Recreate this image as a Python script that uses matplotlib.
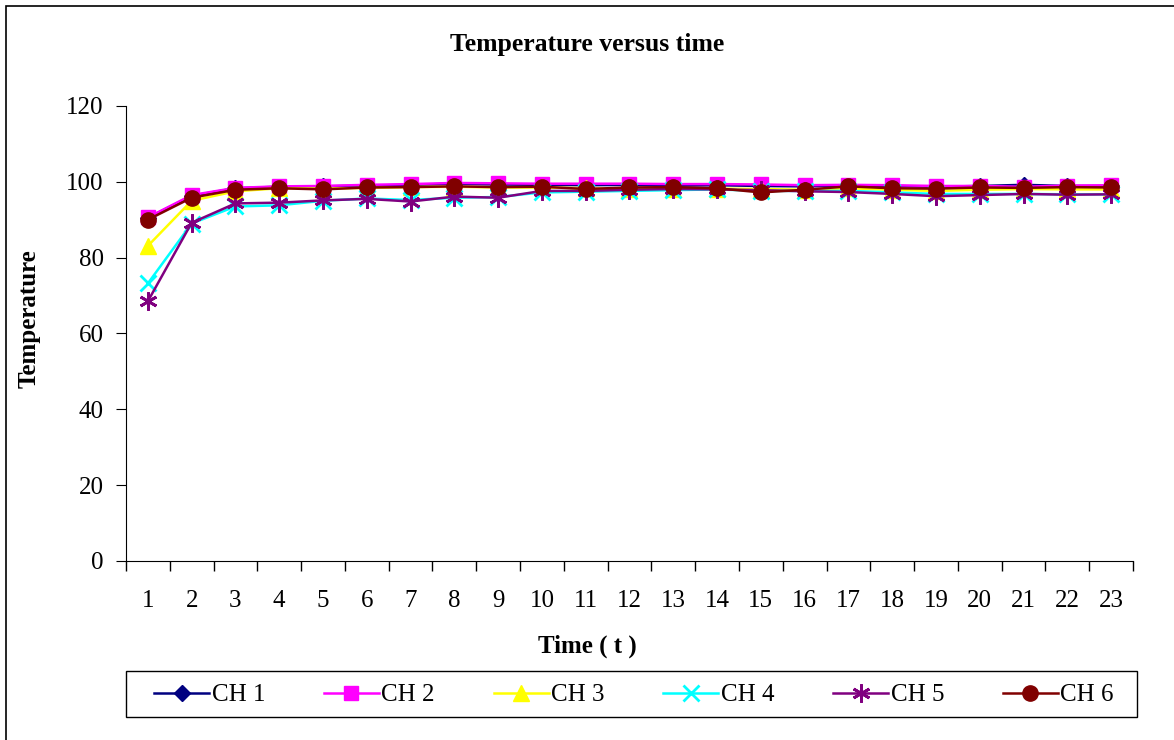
import matplotlib
matplotlib.use("Agg")
import matplotlib.pyplot as plt
import matplotlib.patches as mpatches
import numpy as np

plt.rcParams['font.family'] = ['Liberation Serif', 'DejaVu Serif']

t = list(range(1, 24))
ch1 = [90.5, 96.3, 98.3, 98.7, 98.8, 99.0, 99.2, 99.5, 99.3, 99.2, 99.1, 99.2,
       99.0, 99.1, 98.9, 98.8, 99.0, 98.9, 98.7, 98.9, 99.2, 98.9, 98.9]
ch2 = [90.6, 96.5, 98.4, 98.8, 98.9, 99.2, 99.4, 99.7, 99.6, 99.5, 99.5, 99.5,
       99.4, 99.4, 99.3, 99.1, 99.2, 99.1, 98.9, 98.9, 98.7, 99.0, 99.1]
ch3 = [83.1, 95.0, 97.5, 98.3, 98.2, 98.4, 98.6, 98.7, 98.5, 98.5, 98.3, 98.2,
       98.2, 98.2, 98.1, 97.9, 98.3, 97.9, 97.6, 97.9, 98.1, 98.0, 98.0]
ch4 = [73.2, 89.0, 93.5, 93.8, 95.0, 95.6, 95.2, 95.8, 96.0, 97.2, 97.4, 97.6,
       97.8, 98.0, 97.6, 97.6, 97.6, 97.2, 96.8, 96.8, 96.8, 96.7, 96.7]
ch5 = [68.5, 89.2, 94.3, 94.5, 95.1, 95.5, 94.8, 96.1, 95.8, 97.6, 97.6, 97.9,
       98.1, 98.0, 97.8, 97.5, 97.3, 96.8, 96.2, 96.5, 96.8, 96.6, 96.7]
ch6 = [90.0, 95.8, 97.9, 98.3, 98.0, 98.5, 98.6, 98.8, 98.6, 98.7, 98.1, 98.5,
       98.6, 98.3, 97.2, 97.9, 98.8, 98.3, 98.2, 98.5, 98.4, 98.6, 98.5]

series = [
    ("CH 1", ch1, "#000080", "D", 8),
    ("CH 2", ch2, "#FF00FF", "s", 10),
    ("CH 3", ch3, "#FFFF00", "^", 11),
    ("CH 4", ch4, "#00FFFF", "x", 11),
    ("CH 5", ch5, "#800080", (6, 2, 0), 13),
    ("CH 6", ch6, "#800000", "o", 11),
]

fig = plt.figure(figsize=(11.74, 7.40), dpi=100)
ax = fig.add_axes([0.1073, 0.2419, 0.8578, 0.6149])

handles = []
for name, vals, col, mk, ms in series:
    h, = ax.plot(t, vals, color=col, marker=mk, markersize=ms, lw=1.8,
                 markeredgecolor=col, markeredgewidth=2 if mk in ("x", (6, 2, 0)) else 1,
                 label=name)
    handles.append(h)

ax.set_xlim(0.5, 23.5)
ax.set_ylim(0, 120)
ax.set_yticks(np.arange(0, 121, 20))
ax.set_xticks(t)
ax.set_xticks(np.arange(0.5, 24, 1), minor=True)
ax.tick_params(axis='x', which='major', length=0, pad=21, labelsize=18)
ax.tick_params(axis='x', which='minor', length=7, direction='out', width=1)
ax.tick_params(axis='y', length=7, direction='out', pad=9, labelsize=18)
for s in ["top", "right"]:
    ax.spines[s].set_visible(False)

fig.text(0.5, 0.94, "Temperature versus time", ha="center", va="center",
         fontsize=18.5, fontweight="bold")
fig.text(0.5, 0.127, "Time ( t )", ha="center", va="center",
         fontsize=18, fontweight="bold")
fig.text(0.025, 0.57, "Temperature", ha="center", va="center", rotation=90,
         fontsize=18, fontweight="bold")

# legend box drawn separately, entries centred inside it
fig.patches.append(mpatches.Rectangle((126 / 1174, 23 / 740), 1011 / 1174, 46 / 740,
                                      transform=fig.transFigure, fill=False,
                                      edgecolor="black", lw=1))
fig.legend(handles=handles, loc="center", ncol=6,
           bbox_to_anchor=(634 / 1174, 45 / 740), fontsize=18,
           frameon=False, handlelength=2.2, handletextpad=0.1,
           columnspacing=2.35, borderaxespad=0)

fig.patches.append(mpatches.Rectangle((6 / 1174, -0.01), 1.0, 1 - 6 / 740 + 0.01,
                                      transform=fig.transFigure, fill=False,
                                      edgecolor="black", lw=1.2))

fig.savefig("out.png", dpi=100)
